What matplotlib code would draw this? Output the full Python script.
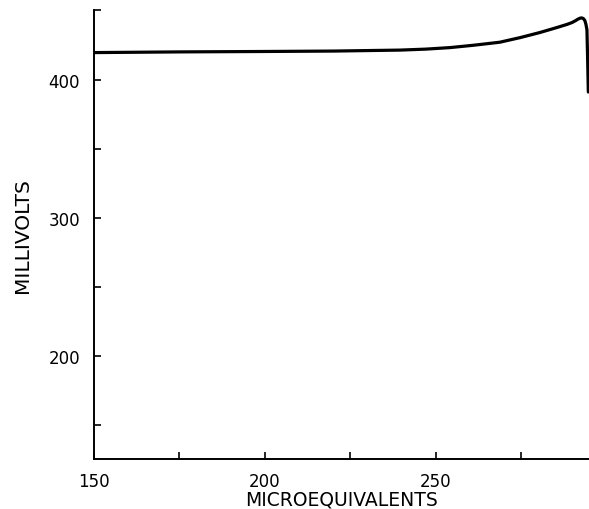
import matplotlib
matplotlib.use("Agg")
import matplotlib.pyplot as plt

# 滴定曲线数据
microequiv = [150.0, 175.1, 200.0, 220.0, 239.5, 247.0, 254.1, 261.0, 268.7,
              274.6, 280.4, 284.0, 286.3, 288.5, 289.8, 290.8, 291.5, 292.2,
              292.7, 293.2, 293.6, 293.9, 294.2, 294.4, 294.6]
millivolts = [419.5, 420.0, 420.3, 420.6, 421.3, 422.0, 423.1, 424.8, 427.0,
              430.3, 434.0, 436.6, 438.3, 440.0, 441.2, 442.5, 443.6, 444.4,
              444.6, 444.0, 442.6, 440.0, 436.0, 414.4, 391.0]

x_ticks = [150, 175, 200, 225, 250, 275]
x_labels = ["150", "", "200", "", "250", ""]
y_ticks = [150, 200, 250, 300, 350, 400, 450]
y_labels = ["", "200", "", "300", "", "400", ""]

plt.rcParams["font.family"] = ["DejaVu Sans"]

fig = plt.figure(figsize=(5.89, 5.10), dpi=100)
ax = fig.add_axes([0.1596, 0.098, 0.8404, 0.8796])

ax.plot(microequiv, millivolts, color="black", lw=2.3,
        solid_capstyle="round", solid_joinstyle="round")

ax.set_xlim(150, 294.8)
ax.set_ylim(125.5, 450)

ax.set_xticks(x_ticks)
ax.set_xticklabels(x_labels)
ax.set_yticks(y_ticks)
ax.set_yticklabels(y_labels)

ax.spines["top"].set_visible(False)
ax.spines["right"].set_visible(False)
for s in ("left", "bottom"):
    ax.spines[s].set_linewidth(1.4)

ax.tick_params(direction="in", length=5, width=1.2, labelsize=12)
ax.tick_params(axis="x", pad=9)
ax.tick_params(axis="y", pad=10)

ax.set_xlabel("MICROEQUIVALENTS", fontsize=13.5, labelpad=0)
ax.set_ylabel("MILLIVOLTS", fontsize=14.5, labelpad=12)

fig.savefig("out.png", dpi=100)
